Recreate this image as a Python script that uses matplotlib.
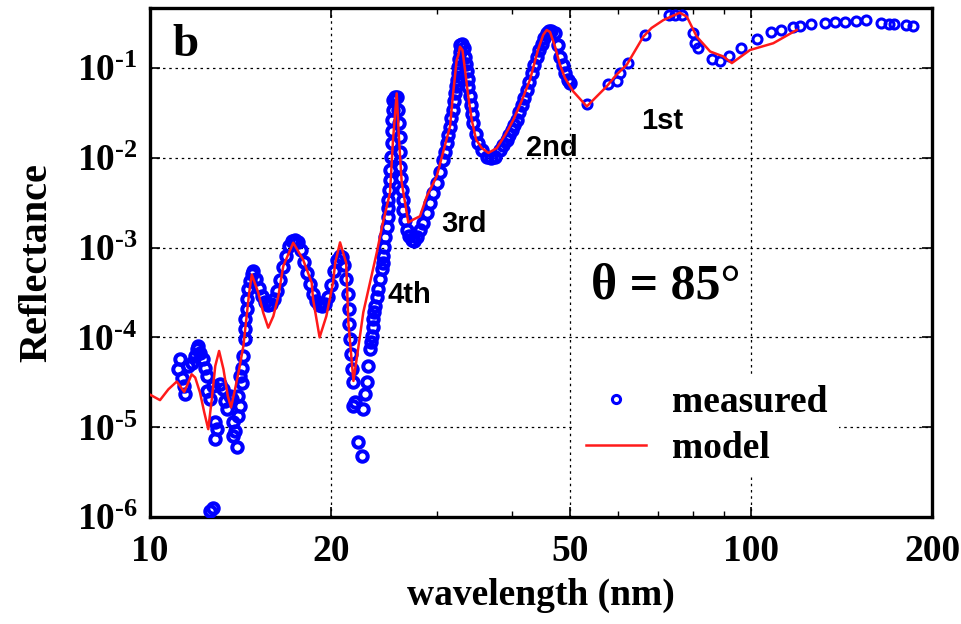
import numpy as np
import matplotlib
matplotlib.use("Agg")
import matplotlib.pyplot as plt
from matplotlib.ticker import FixedLocator, FuncFormatter, NullFormatter

plt.rcParams['font.family'] = ['Liberation Serif', 'DejaVu Serif']
plt.rcParams['font.weight'] = 'bold'
plt.rcParams['mathtext.fontset'] = 'custom'
plt.rcParams['mathtext.rm'] = 'Liberation Serif:bold'
plt.rcParams['mathtext.bf'] = 'Liberation Serif:bold'
plt.rcParams['mathtext.it'] = 'Liberation Serif:italic:bold'

# model curve (wavelength nm, reflectance)
model_wl = [10.0, 10.39, 10.73, 11.08, 11.40, 11.58, 11.73, 11.89, 12.11, 12.31,
            12.50, 12.67, 12.84, 13.03, 13.25, 13.47, 13.64, 13.85, 14.07, 14.30,
            14.48, 14.62, 14.77, 15.14, 15.43, 15.73, 16.04, 16.35, 16.66, 17.31,
            17.97, 18.58, 18.68, 19.15, 19.65, 20.16, 20.33, 20.71, 21.20, 21.38,
            21.80, 22.19, 22.64, 23.23, 23.84, 24.41, 25.08, 25.37, 25.73, 25.96,
            26.23, 26.90, 27.43, 28.13, 28.87, 29.99, 31.56, 31.92, 32.38, 32.59,
            32.79, 33.10, 33.43, 33.82, 34.30, 34.88, 35.64, 36.56, 37.76, 39.0,
            40.23, 41.6, 42.88, 44.2, 45.1, 45.71, 46.3, 47.2, 48.1, 49.03,
            50.62, 53.3, 57.5, 59.7, 62.1, 66.2, 68.3, 71.5, 76.1, 78.2,
            81.2, 85.5, 89.9, 92.9, 99.6, 108.9, 119.1]
model_r = [2.3e-5, 2.0e-5, 2.64e-5, 3.22e-5, 2.47e-5, 3.14e-5, 3.88e-5, 3.57e-5, 2.43e-5, 1.46e-5,
           9.5e-6, 2.05e-5, 4.8e-5, 7.05e-5, 4.41e-5, 2.23e-5, 1.66e-5, 2.64e-5, 4.41e-5, 8.0e-5,
           1.72e-4, 3.14e-4, 5.0e-4, 3.14e-4, 1.88e-4, 1.28e-4, 1.72e-4, 2.88e-4, 6.2e-4, 1.13e-3,
           7.36e-4, 4.05e-4, 2.64e-4, 1.0e-4, 1.72e-4, 4.05e-4, 6.76e-4, 1.14e-3, 6.76e-4, 1.46e-4,
           3.27e-5, 7.36e-5, 1.9e-4, 4.08e-4, 8.8e-4, 1.9e-3, 4.08e-3, 1.585e-2, 5.2e-2, 1.585e-2,
           5.3e-3, 1.9e-3, 2.05e-3, 2.23e-3, 3.7e-3, 6.2e-3, 2.23e-2, 5.0e-2, 0.123, 0.1395,
           0.172, 0.158, 0.095, 5.0e-2, 2.64e-2, 1.585e-2, 1.28e-2, 1.13e-2, 1.28e-2, 1.8e-2,
           2.64e-2, 4.41e-2, 7.4e-2, 0.158, 0.233, 0.264, 0.251, 0.172, 0.108, 7.7e-2,
           5.45e-2, 3.72e-2, 6.2e-2, 8.36e-2, 0.108, 0.223, 0.278, 0.341, 0.411, 0.371,
           0.223, 0.152, 0.134, 0.113, 0.158, 0.188, 0.264]

# measured: noisy short-wavelength part (nm, reflectance)
meas_wl_low = [11.22, 11.15, 11.29, 11.41, 11.44, 11.58, 11.73, 11.89, 11.97, 12.03,
               12.11, 12.27, 12.35, 12.43, 12.43, 12.59, 12.75, 12.84, 12.92, 12.84,
               13.08, 13.25, 13.33, 13.42, 13.59, 13.68, 13.76, 13.85, 13.76, 13.94,
               14.03, 14.12, 14.03, 14.21, 14.12, 14.21, 14.30, 14.39, 14.39, 14.39,
               14.48, 14.48, 14.58, 14.67, 14.77, 12.59, 12.75]
meas_r_low = [5.8e-5, 4.41e-5, 3.57e-5, 2.88e-5, 2.33e-5, 4.8e-5, 5.24e-5, 6.2e-5, 7.36e-5, 8.0e-5,
              6.76e-5, 5.69e-5, 4.61e-5, 3.72e-5, 2.53e-5, 2.05e-5, 2.88e-5, 1.13e-5, 9.5e-6, 7.36e-6,
              3.0e-5, 2.64e-5, 1.96e-5, 1.585e-5, 2.23e-5, 2.05e-5, 1.13e-5, 9.1e-6, 8.0e-6, 5.95e-6,
              1.335e-5, 1.72e-5, 2.23e-5, 3.14e-5, 3.72e-5, 4.61e-5, 6.2e-5, 9.5e-5, 1.227e-4, 1.585e-4,
              2.05e-4, 2.64e-4, 3.41e-4, 4.22e-4, 5.01e-4, 1.175e-6, 1.26e-6]

# measured: dense band 15-50 nm, given as log10(wavelength nm) and log10(reflectance)
band_logwl = [1.1714, 1.1764, 1.1814, 1.1864, 1.1914, 1.1963, 1.2013, 1.2063, 1.2113, 1.2163,
              1.2213, 1.2263, 1.2313, 1.2363, 1.2413, 1.2463, 1.2513, 1.2562, 1.2612, 1.2662,
              1.2712, 1.2762, 1.2812, 1.2862, 1.2912, 1.2962, 1.3012, 1.3062, 1.3112, 1.3161,
              1.3195, 1.3228, 1.3261, 1.3286, 1.3303, 1.3316, 1.3328, 1.3344, 1.3361, 1.3383,
              1.3411, 1.3383, 1.3466, 1.3523, 1.3549, 1.3577, 1.3606, 1.3632, 1.3661, 1.3677,
              1.3689, 1.3702, 1.3716, 1.3727, 1.3744, 1.3769, 1.3799, 1.3827, 1.3855, 1.3869,
              1.3882, 1.3894, 1.3910, 1.3935, 1.3965, 1.3965, 1.3965, 1.3977, 1.3985, 1.3993,
              1.4010, 1.4022, 1.4022, 1.4022, 1.4035, 1.4048, 1.4077, 1.4105, 1.4131, 1.4143,
              1.4160, 1.4160, 1.4160, 1.4176, 1.4188, 1.4201, 1.4215, 1.4243, 1.4271, 1.4310,
              1.4354, 1.4393, 1.4438, 1.4493, 1.4547, 1.4604, 1.4659, 1.4714, 1.4770, 1.4825,
              1.4880, 1.4909, 1.4937, 1.4963, 1.4992, 1.5013, 1.5033, 1.5055, 1.5075, 1.5092,
              1.5103, 1.5117, 1.5130, 1.5141, 1.5150, 1.5158, 1.5191, 1.5216, 1.5241, 1.5258,
              1.5266, 1.5283, 1.5296, 1.5316, 1.5333, 1.5358, 1.5379, 1.5416, 1.5463, 1.5524,
              1.5602, 1.5674, 1.5740, 1.5824, 1.5874, 1.5935, 1.5973, 1.6015, 1.6057, 1.6102,
              1.6140, 1.6181, 1.6223, 1.6268, 1.6306, 1.6348, 1.6389, 1.6434, 1.6473, 1.6514,
              1.6556, 1.6601, 1.6639, 1.6672, 1.6739, 1.6780, 1.6822, 1.6864, 1.6905, 1.6960,
              1.6988]
band_logr = [-3.267, -3.356, -3.456, -3.544, -3.611, -3.644, -3.633, -3.578, -3.489, -3.367,
             -3.222, -3.089, -2.978, -2.922, -2.911, -2.944, -3.033, -3.156, -3.289, -3.411,
             -3.522, -3.600, -3.644, -3.656, -3.633, -3.556, -3.422, -3.267, -3.144, -3.089,
             -3.111, -3.200, -3.356, -3.522, -3.689, -3.856, -4.022, -4.189, -4.356, -4.500,
             -4.722, -4.767, -5.167, -5.322, -4.800, -4.633, -4.500, -4.322, -4.133, -4.056,
             -3.989, -3.889, -3.800, -3.722, -3.656, -3.556, -3.467, -3.356, -3.244, -3.167,
             -3.100, -2.989, -2.878, -2.767, -2.656, -2.556, -2.467, -2.356, -2.244, -2.133,
             -1.989, -1.833, -1.700, -1.578, -1.467, -1.356, -1.322, -1.322, -1.467, -1.611,
             -1.767, -1.933, -2.100, -2.222, -2.356, -2.467, -2.578, -2.689, -2.800, -2.867,
             -2.911, -2.933, -2.878, -2.800, -2.722, -2.611, -2.500, -2.389, -2.278, -2.156,
             -2.022, -1.933, -1.833, -1.744, -1.656, -1.556, -1.467, -1.367, -1.278, -1.200,
             -1.133, -1.056, -0.989, -0.900, -0.822, -0.744, -0.733, -0.778, -0.878, -0.956,
             -1.033, -1.122, -1.211, -1.311, -1.411, -1.511, -1.611, -1.733, -1.833, -1.911,
             -1.989, -2.000, -1.989, -1.911, -1.856, -1.800, -1.744, -1.689, -1.633, -1.578,
             -1.489, -1.411, -1.333, -1.244, -1.156, -1.056, -0.967, -0.878, -0.800, -0.733,
             -0.667, -0.611, -0.589, -0.589, -0.611, -0.744, -0.878, -0.967, -1.056, -1.133,
             -1.167]

# measured: sparse long-wavelength part (nm, reflectance)
meas_wl_high = [53.3, 57.9, 59.9, 60.5, 62.3, 66.6, 72.9, 74.7, 76.7, 80.2,
                80.7, 81.7, 86.0, 88.7, 91.8, 96.1, 102.4, 108.1, 112.0, 117.4,
                120.4, 126.0, 132.6, 137.7, 143.1, 149.7, 155.5, 164.6, 169.9, 173.2,
                181.1, 185.8]
meas_r_high = [3.98e-2, 6.64e-2, 7.23e-2, 8.73e-2, 0.1145, 0.2326, 0.388, 0.388, 0.388, 0.243,
               0.188, 0.1655, 0.125, 0.1197, 0.137, 0.168, 0.21, 0.249, 0.264, 0.288,
               0.293, 0.306, 0.314, 0.322, 0.327, 0.333, 0.341, 0.319, 0.308, 0.306,
               0.30, 0.295]

dense_wl = np.concatenate([meas_wl_low, 10 ** np.array(band_logwl)])
dense_r = np.concatenate([meas_r_low, 10 ** np.array(band_logr)])

order_labels = ['1st', '2nd', '3rd', '4th']

fig = plt.figure(figsize=(9.61, 6.24), dpi=100)
ax = fig.add_axes([0.1561, 0.1715, 0.8137, 0.8157])

ax.plot(dense_wl, dense_r, 'o', ls='none', mfc='none', mec='#0000ff', ms=7.5, mew=2.9,
        zorder=3)
ax.plot(meas_wl_high, meas_r_high, 'o', ls='none', mfc='none', mec='#0000ff', ms=6.5,
        mew=2.2, label='measured', zorder=3)
ax.plot(model_wl, model_r, '-', color='#ff1a1a', lw=1.8, label='model', zorder=4)

ax.set_xscale('log')
ax.set_yscale('log')
ax.set_xlim(10, 200)
ax.set_ylim(1e-6, 0.464)

ax.xaxis.set_major_locator(FixedLocator([10, 20, 50, 100, 200]))
ax.xaxis.set_major_formatter(FuncFormatter(lambda v, p: f"{v:g}"))
ax.xaxis.set_minor_locator(FixedLocator([30, 40, 60, 70, 80, 90]))
ax.xaxis.set_minor_formatter(NullFormatter())
ax.yaxis.set_major_locator(FixedLocator([1e-6, 1e-5, 1e-4, 1e-3, 1e-2, 1e-1]))
ax.yaxis.set_major_formatter(FuncFormatter(
    lambda v, p: r"$\mathrm{10}^{\text{-}%d}$" % round(-np.log10(v))))
ax.yaxis.set_minor_locator(FixedLocator([]))

ax.tick_params(which='both', direction='in', top=True, right=True)
ax.tick_params(which='major', length=7, width=1.2)
ax.tick_params(which='minor', length=4, width=1.0)
ax.tick_params(axis='x', labelsize=27, pad=12)
ax.tick_params(axis='y', labelsize=27, pad=9)

ax.grid(True, which='major', color='black', ls=(0, (2, 3)), lw=0.9)
for s in ax.spines.values():
    s.set_linewidth(2.4)

ax.set_xlabel('wavelength (nm)', fontsize=27, fontweight='bold', labelpad=7)
ax.set_ylabel('Reflectance', fontsize=29, fontweight='bold', labelpad=15)

ax.text(0.045, 0.927, 'b', transform=ax.transAxes, fontsize=34, fontweight='bold',
        ha='center', va='center')
ax.text(0.659, 0.452, r'θ = 85°', transform=ax.transAxes, fontsize=36,
        fontweight='bold', ha='center', va='center')

label_pos = [(0.655, 0.778), (0.514, 0.725), (0.402, 0.576), (0.332, 0.436)]
for lab, (tx, ty) in zip(order_labels, label_pos):
    ax.text(tx, ty, lab, transform=ax.transAxes, fontsize=21, fontweight='bold',
            family='Liberation Sans', ha='center', va='center', zorder=5)

leg = ax.legend(loc='lower left', bbox_to_anchor=(0.519, 0.041), fontsize=27,
                frameon=True, fancybox=False, edgecolor='none', facecolor='white',
                framealpha=1, handlelength=1.6, handletextpad=0.7, labelspacing=0.3,
                borderpad=0.3, markerscale=0.9)

fig.savefig('out.png', dpi=100)
